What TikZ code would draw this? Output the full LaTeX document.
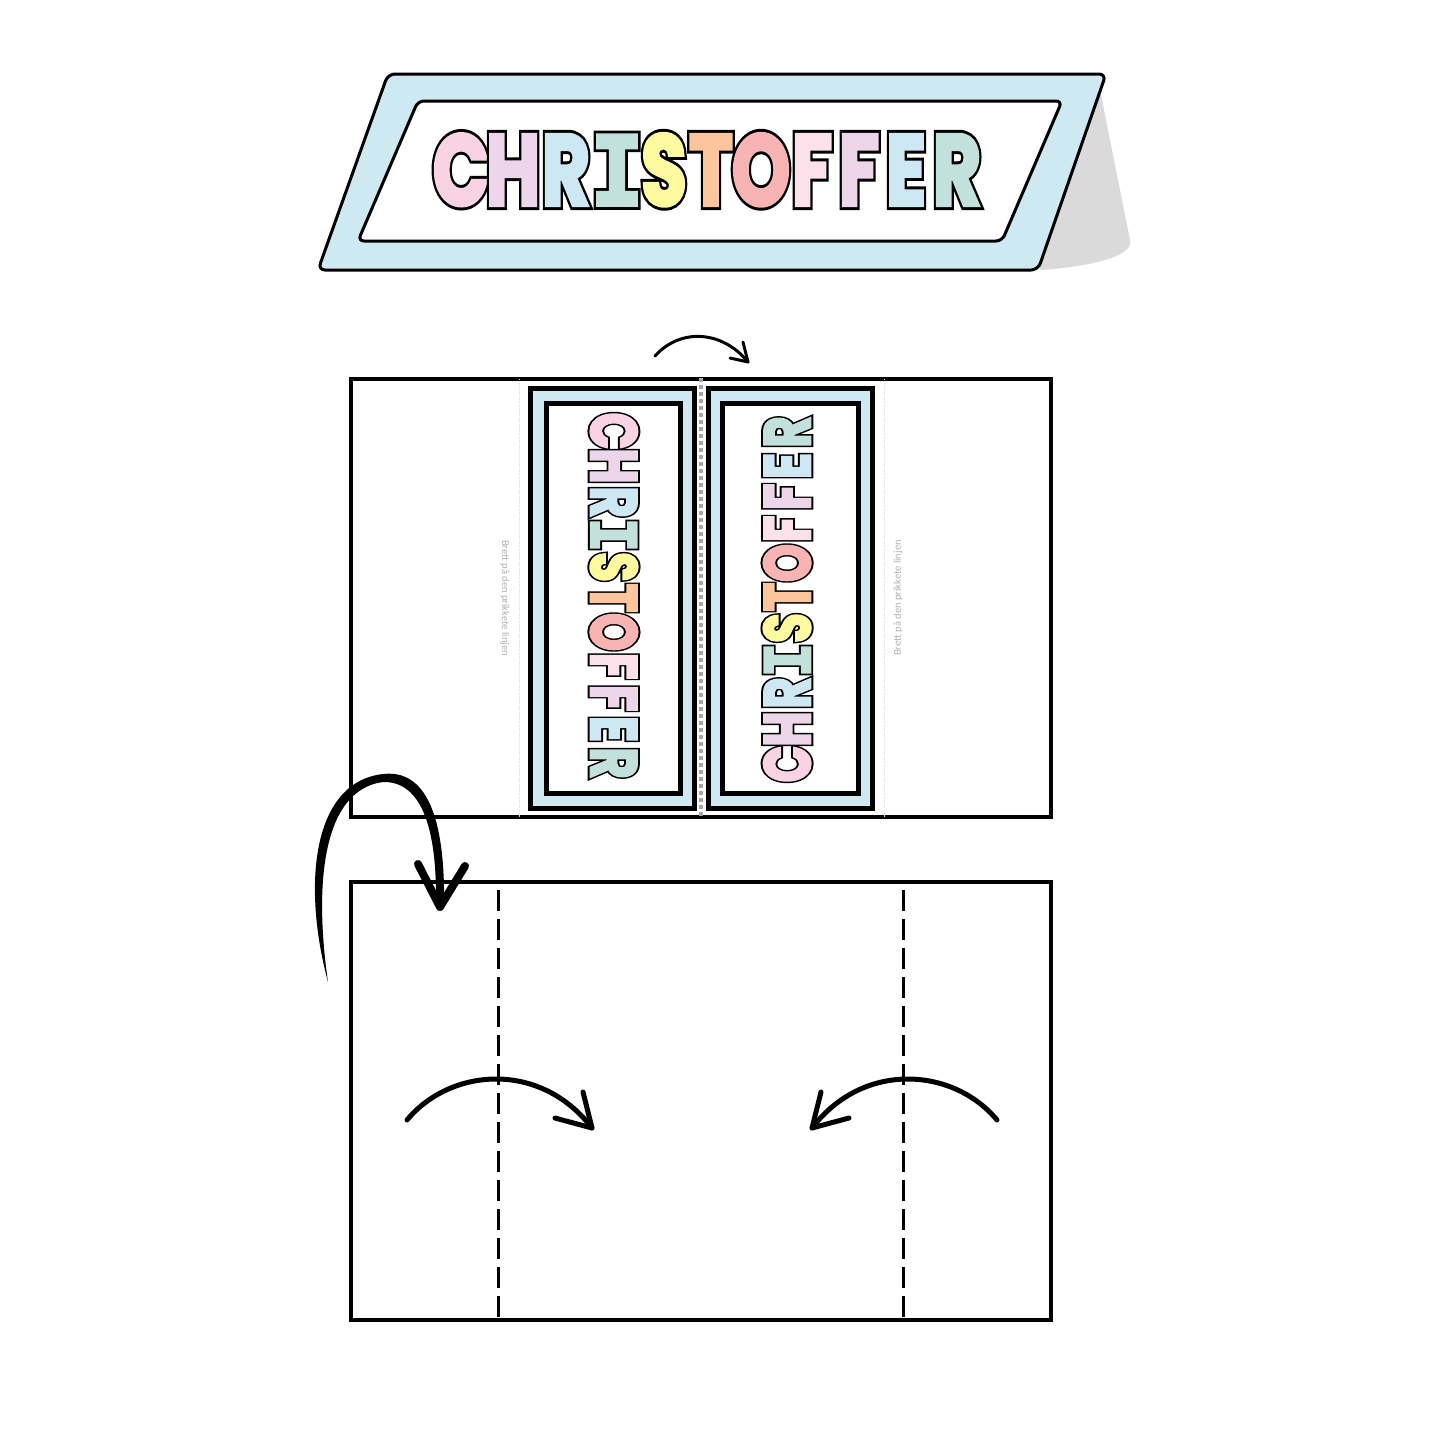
\documentclass[tikz,border=0pt]{standalone}
\usepackage{fontspec}
\usepackage{graphicx}
\newfontfamily\fillfont{Poppins}[BoldFeatures={FakeBold=4}]
\newfontfamily\strokefont{Poppins}[BoldFeatures={FakeBold=10}]
\newfontfamily\Ifillfont{DejaVu Sans Mono}[BoldFeatures={FakeBold=4}]
\newfontfamily\Istrokefont{DejaVu Sans Mono}[BoldFeatures={FakeBold=10}]
\newfontfamily\smallfont{Carlito}
\definecolor{plateblue}{HTML}{CFE9F3}
\definecolor{shadowgrey}{HTML}{DADADA}
\definecolor{cC}{HTML}{F9D3E3}
\definecolor{cH}{HTML}{EDD5EA}
\definecolor{cR}{HTML}{CDE8F3}
\definecolor{cI}{HTML}{C3E1DC}
\definecolor{cS}{HTML}{FDF99E}
\definecolor{cT}{HTML}{FDC59B}
\definecolor{cO}{HTML}{F7B4B3}
\definecolor{cF}{HTML}{FDE1EA}
\def\letterIref{I}
% name, x, y, rotation, size, letter, colour
\newcommand\nmletter[7]{%
  \edef\curletter{#6}%
  \ifx\curletter\letterIref
    \pgfmathsetmacro\Isize{0.956*#5}%
    \node[letterbox, text=black, font=\Istrokefont\bfseries\fontsize{\Isize}{\Isize}\selectfont, rotate=#4] (#1s) at (#2,#3) {\scalebox{0.92}[1]{I}};
    \node[letterbox, text=#7, font=\Ifillfont\bfseries\fontsize{\Isize}{\Isize}\selectfont, rotate=#4] (#1) at (#2,#3) {\scalebox{0.92}[1]{I}};
  \else
    \node[letterbox, text=black, font=\strokefont\bfseries\fontsize{#5}{#5}\selectfont, rotate=#4] (#1s) at (#2,#3) {\scalebox{0.74}[1]{#6}};
    \node[letterbox, text=#7, font=\fillfont\bfseries\fontsize{#5}{#5}\selectfont, rotate=#4] (#1) at (#2,#3) {\scalebox{0.74}[1]{#6}};
  \fi
}
\begin{document}
\begin{tikzpicture}[x=1pt,y=-1pt,
  letterbox/.style={inner sep=0pt, outer sep=0pt, anchor=base},
  panel/.style={draw=black, line width=4pt, fill=white},
  cardout/.style={draw=black, line width=5pt, fill=plateblue, inner sep=0pt},
  cardin/.style={draw=black, line width=5pt, fill=white, inner sep=0pt},
  foldnote/.style={text=black!30, font=\smallfont\fontsize{10.5}{10.5}\selectfont, inner sep=0pt},
  curvearrow/.style={line width=#1, line cap=round, line join=round}]
\useasboundingbox (0,0) rectangle (1445,1445);
\fill[white] (0,0) rectangle (1445,1445);

% ---------- table tent name plate ----------
\fill[shadowgrey] (1098,80) -- (1130,240) .. controls (1134,254) and (1100,266) .. (1040,270) -- (1030,200) -- cycle;
\draw[line width=3pt, fill=plateblue, rounded corners=7pt] (388,74) -- (1106,74) -- (1038,270) -- (318,270) -- cycle;
\draw[line width=3pt, fill=white, rounded corners=6pt] (418,101) -- (1062,101) -- (1002,241) -- (358,241) -- cycle;
\foreach \n/\x/\l/\c in {p1/461/C/cC, p2/513/H/cH, p3/566/R/cR, p4/617/I/cI, p5/664/S/cS, p6/711/T/cT, p7/761/O/cO, p8/812/F/cF, p9/859/F/cH, p10/906/E/cR, p11/957/R/cI}{
  \nmletter{\n}{\x}{205}{0}{100}{\l}{\c}
}

% ---------- middle sheet ----------
\node[panel, minimum width=700pt, minimum height=438pt] (sheet) at (701,598) {};
\draw[black!12, line width=0.8pt, densely dotted] (519,379) -- (519,817);
\draw[black!12, line width=0.8pt, densely dotted] (884,379) -- (884,817);
\node[cardout, minimum width=164pt, minimum height=420pt] (lcard) at (612,598) {};
\node[cardin, minimum width=134pt, minimum height=390pt] (lcardin) at (613,598) {};
\node[cardout, minimum width=164pt, minimum height=420pt] (rcard) at (790,598) {};
\node[cardin, minimum width=136pt, minimum height=390pt] (rcardin) at (790,598) {};
\draw[black!35, line width=4pt, dash pattern=on 4pt off 3pt] (701,378) -- (701,818);
\foreach \n/\y/\l/\c in {l1/431/C/cC, l2/466/H/cH, l3/502/R/cR, l4/535/I/cI, l5/567/S/cS, l6/598/T/cT, l7/632/O/cO, l8/666/F/cF, l9/698/F/cH, l10/729/E/cR, l11/763/R/cI}{
  \nmletter{\n}{591}{\y}{-90}{65}{\l}{\c}
}
\foreach \n/\y/\l/\c in {r1/764/C/cC, r2/729/H/cH, r3/693/R/cR, r4/660/I/cI, r5/628/S/cS, r6/597/T/cT, r7/563/O/cO, r8/529/F/cF, r9/497/F/cH, r10/466/E/cR, r11/432/R/cI}{
  \nmletter{\n}{810}{\y}{90}{65}{\l}{\c}
}
\node[foldnote, rotate=-90] (noteL) at (505,598) {Brett på den prikkete linjen};
\node[foldnote, rotate=90] (noteR) at (898,598) {Brett på den prikkete linjen};

% small arrow above sheet
\coordinate (ta0) at (655,356);
\coordinate (ta1) at (748,362);
\draw[curvearrow=3pt] (ta0) .. controls (680,328) and (722,330) .. (ta1);
\draw[curvearrow=3pt] (743,342) -- (ta1) -- (730,358);

% ---------- bottom sheet ----------
\node[panel, minimum width=700pt, minimum height=438pt] (sheet2) at (701,1101) {};
\draw[line width=3pt, dash pattern=on 21pt off 8pt, dash phase=-8pt] (498,882) -- (498,1320);
\draw[line width=3pt, dash pattern=on 21pt off 8pt, dash phase=-8pt] (903,882) -- (903,1320);

% big flip arrow
\fill[black] (328,982) .. controls (302,885) and (312,782) .. (383,774)
  .. controls (436,768) and (445,842) .. (444,906)
  -- (436,906) .. controls (437,845) and (428,781) .. (383,782)
  .. controls (322,790) and (314,885) .. (328,982) -- cycle;
\coordinate (bigtip) at (440,907);
\draw[curvearrow=8pt] (418,864) -- (bigtip) -- (465,866);

% fold arrows
\coordinate (la0) at (407,1120);
\coordinate (la1) at (592,1128);
\draw[curvearrow=5pt] (la0) .. controls (450,1068) and (540,1060) .. (la1);
\draw[curvearrow=5pt] (583,1092) -- (la1) -- (555,1118);
\coordinate (ra0) at (997,1120);
\coordinate (ra1) at (812,1128);
\draw[curvearrow=5pt] (ra0) .. controls (954,1068) and (864,1060) .. (ra1);
\draw[curvearrow=5pt] (821,1092) -- (ra1) -- (849,1118);
\end{tikzpicture}
\end{document}
